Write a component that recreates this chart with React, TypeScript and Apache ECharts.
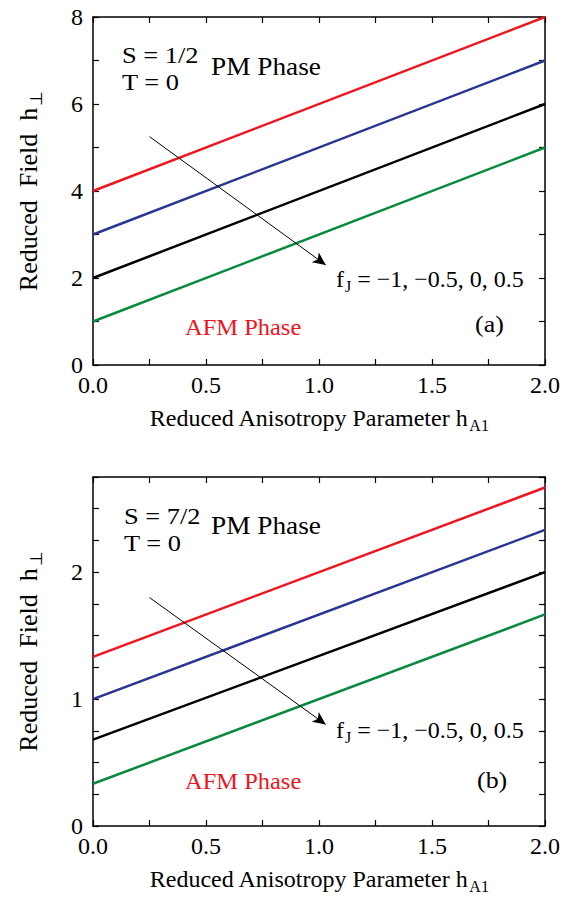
import React, { useEffect, useRef } from "react";
import * as echarts from "echarts";

// Data: straight lines from h_A1 = 0 to h_A1 = 2 for f_J = -1, -0.5, 0, 0.5
const xRange = [0, 2];
const fJLabels = ["-1", "-0.5", "0", "0.5"];
const lineColors = ["#f0141e", "#2a3593", "#000000", "#088a3c"];
const topStart = [4, 3, 2, 1];
const topEnd = [8, 7, 6, 5];
const botStart = [1.333, 1, 0.68, 0.333];
const botEnd = [2.667, 2.333, 2, 1.667];
const topArrow = [[0.25, 5.25], [1.03, 2.3]];
const botArrow = [[0.25, 1.8], [1.03, 0.8]];
const xTicks = [0, 0.5, 1, 1.5, 2];
const topYTicks = [0, 2, 4, 6, 8];
const botYTicks = [0, 1, 2];

const FONT = '"Liberation Serif", "Times New Roman", serif';

export default function App() {
  const ref = useRef<HTMLDivElement>(null);
  useEffect(() => {
    if (!ref.current) return;
    const chart = echarts.init(ref.current, null, { renderer: "svg" });

    const grids = [
      { left: 93, top: 17, width: 452, height: 348 },
      { left: 93, top: 477, width: 452, height: 349 },
    ];
    const isIn = (v: number, arr: number[]) => arr.some((a) => Math.abs(a - v) < 1e-6);
    const axisLine = { show: true, onZero: false, lineStyle: { color: "#000", width: 1.5 } };
    const axisTick = { show: true, inside: true, length: 6, lineStyle: { color: "#000", width: 1.2 } };
    const subRichX = {
      sub: { fontSize: 16, fontFamily: FONT, color: "#000", padding: [14, 0, 0, 1] },
    };
    const subRichY = {
      sub: { fontSize: 17, fontFamily: FONT, color: "#000", padding: [16, 0, 0, 2] },
    };

    const xAxis: any[] = [];
    const yAxis: any[] = [];
    [0, 1].forEach((g) => {
      xAxis.push({
        type: "value",
        gridIndex: g,
        min: xRange[0],
        max: xRange[1],
        interval: 0.25,
        axisLine,
        axisTick,
        splitLine: { show: false },
        axisLabel: {
          color: "#000",
          fontFamily: FONT,
          fontSize: 24,
          margin: 8,
          showMinLabel: true,
          showMaxLabel: true,
          formatter: (v: number) => (isIn(v, xTicks) ? v.toFixed(1) : ""),
        },
        name: "Reduced Anisotropy Parameter h{sub|A1}",
        nameLocation: "middle",
        nameGap: 38,
        nameTextStyle: { color: "#000", fontFamily: FONT, fontSize: 24, rich: subRichX },
      });
      xAxis.push({
        type: "value",
        gridIndex: g,
        position: "top",
        min: xRange[0],
        max: xRange[1],
        interval: 0.25,
        axisLine,
        axisTick,
        axisLabel: { show: false },
        splitLine: { show: false },
      });
      const ymax = g === 0 ? 8 : 2.75;
      const yint = g === 0 ? 1 : 0.25;
      const ylabs = g === 0 ? topYTicks : botYTicks;
      yAxis.push({
        type: "value",
        gridIndex: g,
        min: 0,
        max: ymax,
        interval: yint,
        axisLine,
        axisTick,
        splitLine: { show: false },
        axisLabel: {
          color: "#000",
          fontFamily: FONT,
          fontSize: 24,
          margin: 10,
          showMinLabel: true,
          showMaxLabel: true,
          formatter: (v: number) => (isIn(v, ylabs) ? String(v) : ""),
        },
        name: "Reduced  Field  h{sub|⊥}",
        nameLocation: "middle",
        nameGap: 48,
        nameTextStyle: { color: "#000", fontFamily: FONT, fontSize: 26, rich: subRichY },
      });
      yAxis.push({
        type: "value",
        gridIndex: g,
        position: "right",
        min: 0,
        max: ymax,
        interval: yint,
        axisLine,
        axisTick,
        axisLabel: { show: false },
        splitLine: { show: false },
      });
    });

    const series: any[] = [];
    [0, 1].forEach((g) => {
      const st = g === 0 ? topStart : botStart;
      const en = g === 0 ? topEnd : botEnd;
      fJLabels.forEach((f, i) => {
        series.push({
          type: "line",
          name: `fJ=${f}`,
          xAxisIndex: g * 2,
          yAxisIndex: g * 2,
          data: [
            [xRange[0], st[i]],
            [xRange[1], en[i]],
          ],
          showSymbol: false,
          lineStyle: { color: lineColors[i], width: 2.5 },
          z: 3,
        });
      });
      const arr = g === 0 ? topArrow : botArrow;
      series.push({
        type: "line",
        xAxisIndex: g * 2,
        yAxisIndex: g * 2,
        data: [],
        markLine: {
          silent: true,
          symbol: ["none", "arrow"],
          symbolSize: [9, 13],
          label: { show: false },
          lineStyle: { color: "#000", width: 1, type: "solid" },
          data: [[{ coord: arr[0] }, { coord: arr[1] }]],
        },
        z: 4,
      });
    });

    const txt = (
      text: string,
      x: number,
      y: number,
      size: number,
      sx: number,
      color = "#000",
      extra: any = {}
    ) => ({
      type: "text",
      x,
      y,
      scaleX: sx,
      z: 10,
      style: {
        text,
        fill: color,
        fontFamily: FONT,
        fontSize: size,
        verticalAlign: "middle",
        ...extra,
      },
    });
    const fRich = {
      rich: {
        sub: { fontSize: 16, fontFamily: FONT, fill: "#000", padding: [14, 0, 0, 1] },
      },
    };
    const RED = "#f0141e";

    const graphic = [
      txt("S = 1/2", 122, 55, 24, 1.1),
      txt("T = 0", 122, 82, 24, 1.1),
      txt("PM Phase", 211, 66, 26, 1.05),
      txt("AFM Phase", 185, 327, 24, 1.02, RED),
      txt("(a)", 475, 324, 24, 1.08),
      txt("f{sub|J} = −1, −0.5, 0, 0.5", 336, 279, 24, 1, "#000", fRich),
      txt("S = 7/2", 124, 516, 24, 1.1),
      txt("T = 0", 124, 543, 24, 1.1),
      txt("PM Phase", 211, 525, 26, 1.05),
      txt("AFM Phase", 185, 781, 24, 1.02, RED),
      txt("(b)", 477, 780, 24, 1.08),
      txt("f{sub|J} = −1, −0.5, 0, 0.5", 336, 730, 24, 1, "#000", fRich),
    ];

    chart.setOption({
      animation: false,
      backgroundColor: "#fff",
      grid: grids,
      xAxis,
      yAxis,
      series,
      graphic,
    });
    return () => chart.dispose();
  }, []);
  return (
    <div
      ref={ref}
      style={{ position: "fixed", left: 0, top: 0, width: 570, height: 900, background: "#fff" }}
    />
  );
}
